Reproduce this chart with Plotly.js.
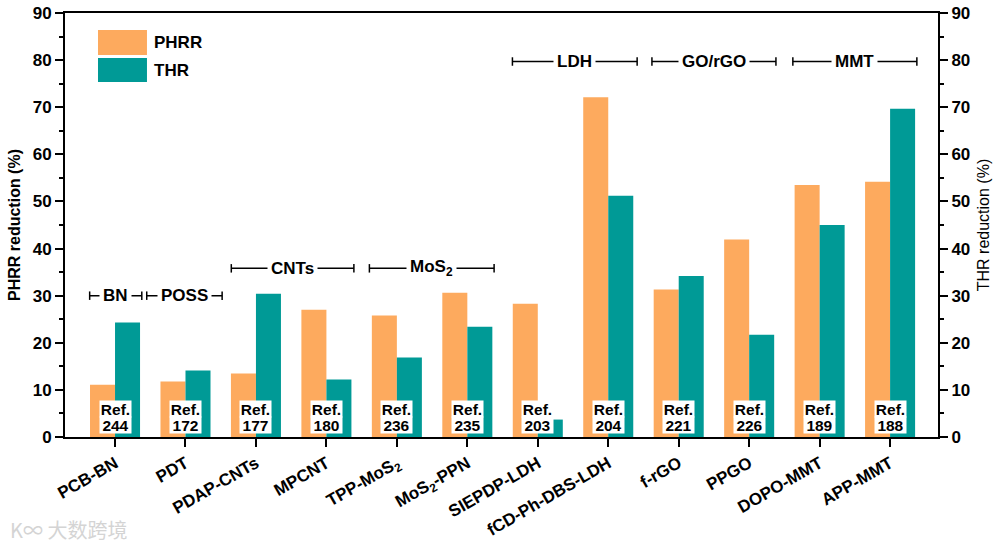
<!DOCTYPE html>
<html>
<head>
<meta charset="utf-8">
<script src="https://cdn.plot.ly/plotly-3.0.1.min.js"></script>
<style>html,body{margin:0;padding:0;background:#fff;}#chart{width:1000px;height:551px;}</style>
</head>
<body>
<div id="chart"></div>
<script>
// ---- data ----
const categories = ['PCB-BN','PDT','PDAP-CNTs','MPCNT','TPP-MoS<sub>2</sub>','MoS<sub>2</sub>-PPN','SIEPDP-LDH','fCD-Ph-DBS-LDH','f-rGO','PPGO','DOPO-MMT','APP-MMT'];
const phrr = [11.1, 11.8, 13.5, 27.0, 25.8, 30.6, 28.3, 72.1, 31.3, 41.9, 53.5, 54.2];
const thr  = [24.3, 14.1, 30.4, 12.2, 16.9, 23.4, 3.7, 51.2, 34.2, 21.7, 45.0, 69.7];
const refs = ['244','172','177','180','236','235','203','204','221','226','189','188'];
const groupLabels = ['BN','POSS','CNTs','MoS<sub>2</sub>','LDH','GO/rGO','MMT'];
const groupFirst = [0, 1, 2, 4, 6, 8, 10];
const groupLast  = [0, 1, 3, 5, 7, 9, 11];
const groupLevel = [30, 30, 35.8, 35.8, 79.7, 79.7, 79.7];

// ---- styles ----
const ORANGE = '#FDAA5E', TEAL = '#009A96';
const FONT = 'Liberation Sans, Arial, Helvetica, sans-serif';
const idx = categories.map((_, i) => i);
// bracket extents (left pad, right pad) in category units
const padL = [0.36, 0.55, 0.35, 0.39, 0.36, 0.38, 0.38];
const padR = [0.38, 0.52, 0.39, 0.38, 0.41, 0.38, 0.38];

const traces = [
  {type:'bar', name:'PHRR', x: idx, y: phrr, marker:{color: ORANGE}, offsetgroup:'a', yaxis:'y', showlegend:false, hoverinfo:'y'},
  {type:'bar', name:'THR', x: idx, y: thr, marker:{color: TEAL}, offsetgroup:'b', yaxis:'y2', showlegend:false, hoverinfo:'y'}
];

const shapes = [];
const annotations = [];

// Ref labels
refs.forEach((r, i) => {
  annotations.push({x: i, y: 5.95, xref:'x', yref:'y', text:'<b>Ref.</b>', showarrow:false,
    font:{family: FONT, size: 15.5, color:'#000'}, bgcolor:'#fff', borderpad:0, width:31, height:16, yanchor:'middle'});
  annotations.push({x: i, y: 2.65, xref:'x', yref:'y', text:'<b>' + r + '</b>', showarrow:false,
    font:{family: FONT, size: 15.5, color:'#000'}, bgcolor:'#fff', borderpad:0, width:31, height:16, yanchor:'middle'});
});

// group brackets
groupLabels.forEach((g, k) => {
  const x0 = groupFirst[k] - padL[k];
  const x1 = groupLast[k] + padR[k];
  const yv = groupLevel[k];
  const line = {color:'#000', width:1.5};
  shapes.push({type:'line', xref:'x', yref:'y', x0: x0, x1: x1, y0: yv, y1: yv, line});
  shapes.push({type:'line', xref:'x', yref:'y', x0: x0, x1: x0, y0: yv - 0.9, y1: yv + 0.9, line});
  shapes.push({type:'line', xref:'x', yref:'y', x0: x1, x1: x1, y0: yv - 0.9, y1: yv + 0.9, line});
  annotations.push({x: (x0 + x1) / 2, y: yv, xref:'x', yref:'y', text:'<b>' + g + '</b>', showarrow:false,
    font:{family: FONT, size: 17, color:'#000'}, bgcolor:'#fff', borderpad:3, yanchor:'middle'});
});

// legend (drawn)
shapes.push({type:'rect', xref:'paper', yref:'paper', x0:0.0378, x1:0.0939, y0:0.901, y1:0.960, fillcolor: ORANGE, line:{width:0}});
shapes.push({type:'rect', xref:'paper', yref:'paper', x0:0.0378, x1:0.0939, y0:0.837, y1:0.894, fillcolor: TEAL, line:{width:0}});
annotations.push({x:0.100, y:0.930, xref:'paper', yref:'paper', text:'<b>PHRR</b>', showarrow:false, xanchor:'left', yanchor:'middle',
  font:{family: FONT, size: 17, color:'#000'}});
annotations.push({x:0.100, y:0.864, xref:'paper', yref:'paper', text:'<b>THR</b>', showarrow:false, xanchor:'left', yanchor:'middle',
  font:{family: FONT, size: 17, color:'#000'}});

// watermark
annotations.push({x:-0.065, y:-0.218, xref:'paper', yref:'paper', text:'K∞ 大数跨境', showarrow:false, xanchor:'left', yanchor:'middle',
  font:{family:'Noto Sans CJK SC, sans-serif', size: 20, color:'#d4d4d4'}});

const yCommon = {
  range:[0, 90], dtick:10, tick0:0, showline:true, linecolor:'#000', linewidth:2,
  ticks:'outside', ticklen:8, tickwidth:2, tickcolor:'#000', showgrid:false, zeroline:false,
  tickfont:{family: FONT, size: 17, color:'#000', weight:'bold'},
  minor:{ticks:'outside', ticklen:4, tickwidth:2, tickcolor:'#000', dtick:5, showgrid:false},
  fixedrange:true
};

const layout = {
  width:1000, height:551,
  margin:{l:65, r:62, t:13, b:114, pad:0},
  paper_bgcolor:'#fff', plot_bgcolor:'#fff',
  barmode:'group', bargap:0.29, bargroupgap:0,
  showlegend:false,
  xaxis:{
    range:[-0.71, 11.68], tickmode:'array', tickvals: idx, ticktext: categories,
    tickangle:-30, showline:true, mirror:true, linecolor:'#000', linewidth:2,
    ticks:'outside', ticklen:8, tickwidth:2, tickcolor:'#000', showgrid:false, zeroline:false,
    tickfont:{family: FONT, size: 17, color:'#000', weight:'bold'}, fixedrange:true
  },
  yaxis: Object.assign({}, yCommon, {
    side:'left',
    title:{text:'PHRR reduction (%)', font:{family: FONT, size: 16, color:'#000', weight:'bold'}, standoff:8}
  }),
  yaxis2: Object.assign({}, yCommon, {
    side:'right', overlaying:'y',
    title:{text:'THR reduction (%)', font:{family: FONT, size: 16, color:'#000'}, standoff:8}
  }),
  shapes: shapes,
  annotations: annotations
};

Plotly.newPlot('chart', traces, layout, {displayModeBar:false, staticPlot:true});
</script>
</body>
</html>
